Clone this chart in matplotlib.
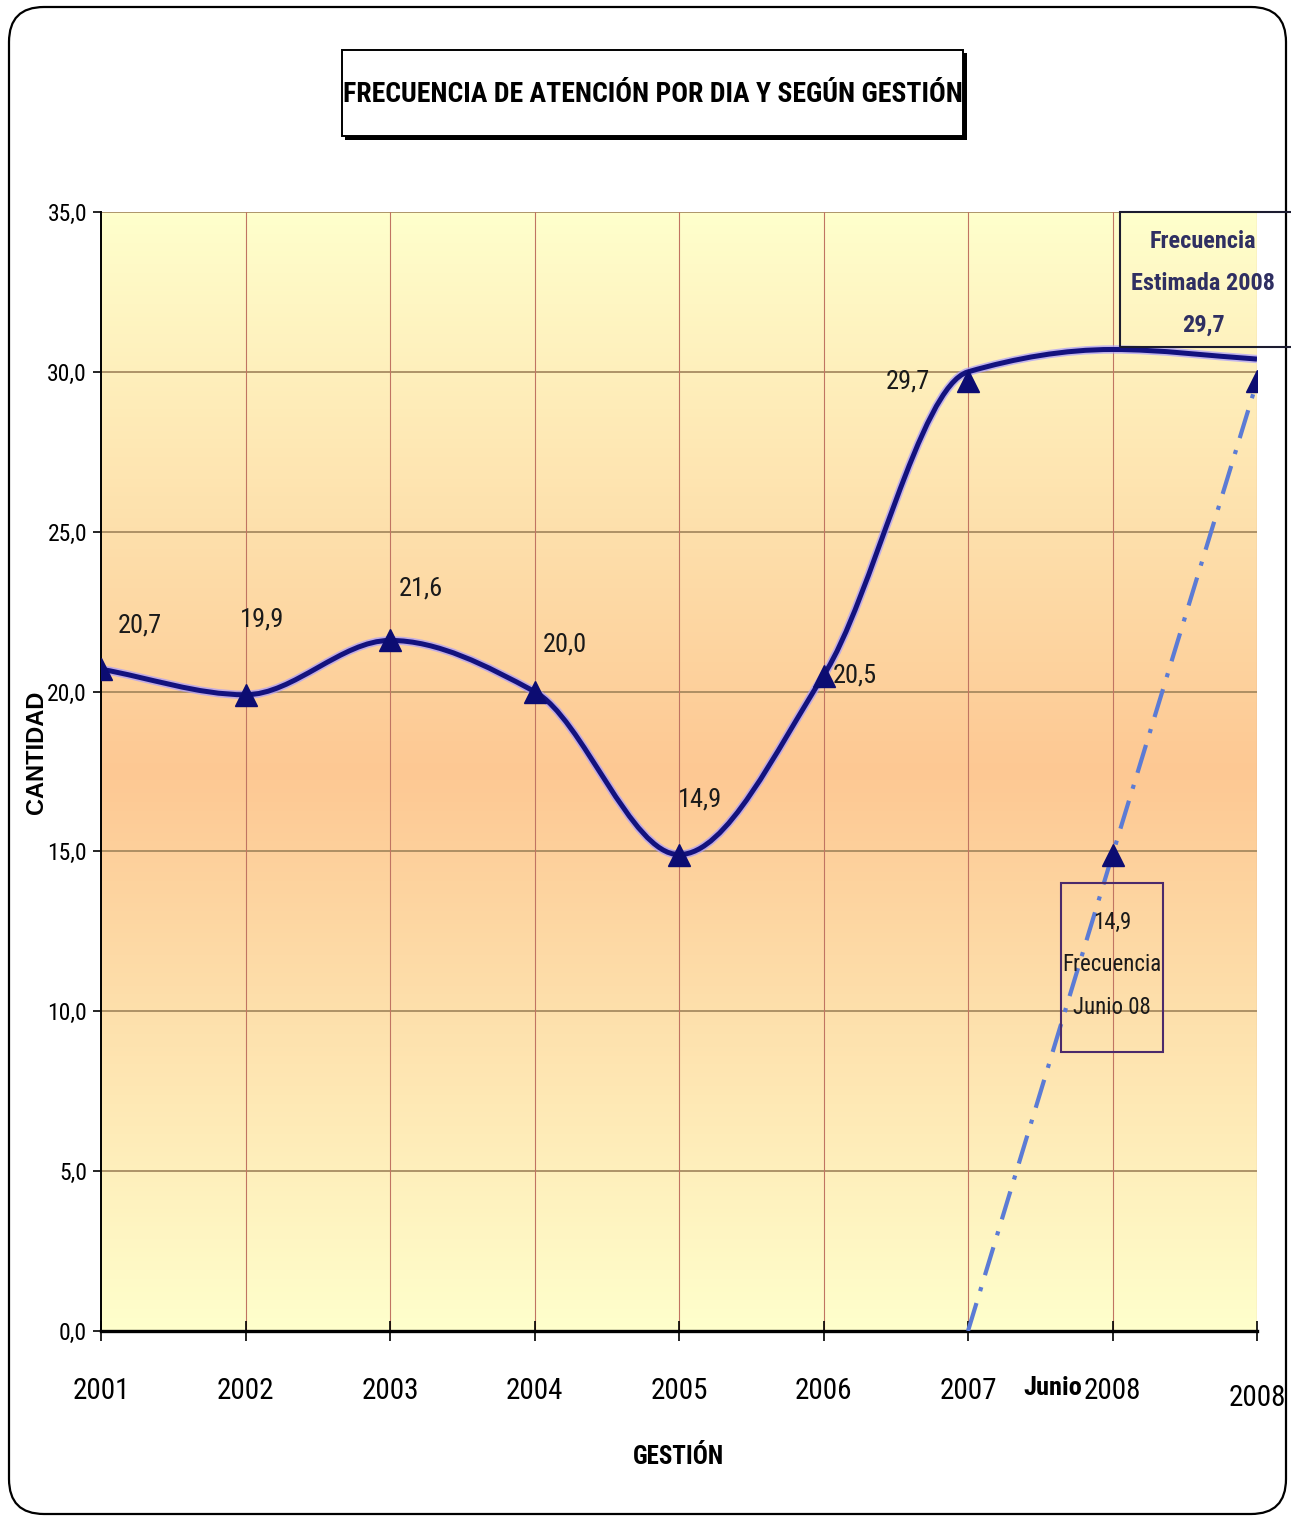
import matplotlib
matplotlib.use('Agg')
import matplotlib.pyplot as plt
import numpy as np
from matplotlib.path import Path
from matplotlib.patches import PathPatch, Rectangle, FancyBboxPatch
from matplotlib.colors import LinearSegmentedColormap

# datos
categorias = ['2001', '2002', '2003', '2004', '2005', '2006', '2007', 'Junio 2008', '2008']
frecuencia = [20.7, 19.9, 21.6, 20.0, 14.9, 20.5, 29.7]          # etiquetas 2001-2007
linea_frecuencia = [20.7, 19.9, 21.6, 20.0, 14.9, 20.5, 30.0, 30.7, 30.4]
estimada = [0.0, 14.9, 29.7]                                       # 2007, Junio 2008, 2008
estimada_idx = [6, 7, 8]

NARROW = ['Roboto Condensed', 'Liberation Sans', 'DejaVu Sans']
plt.rcParams['font.family'] = NARROW

W, H = 1291, 1518
fig = plt.figure(figsize=(W / 100, H / 100), dpi=100)
ax = fig.add_axes([101 / W, 1 - 1331 / H, 1156 / W, 1119 / H])

x = np.arange(len(categorias))
ax.set_xlim(0, len(categorias) - 1)
ax.set_ylim(0, 35)

# fondo degradado (amarillo - naranja - amarillo)
cmap = LinearSegmentedColormap.from_list('fondo', ['#ffffcc', '#fdc893', '#ffffcc'])
grad = np.linspace(0, 1, 256).reshape(-1, 1)
ax.imshow(grad, aspect='auto', cmap=cmap, extent=[0, len(categorias) - 1, 0, 35],
          origin='lower', zorder=0)

# rejilla
for yv in np.arange(5, 36, 5):
    ax.axhline(yv, color='#a0845a', lw=1.2, zorder=1)
for xv in x[1:]:
    ax.axvline(xv, color='#c07462', lw=0.8, zorder=1)

# linea suavizada: bezier con tangentes monotonas
pts = np.column_stack([x, linea_frecuencia]).astype(float)
d = np.diff(pts[:, 1])
m = np.zeros(len(pts))
m[0], m[-1] = d[0], d[-1]
for i in range(1, len(pts) - 1):
    if d[i - 1] * d[i] > 0:
        m[i] = 2 / (1 / d[i - 1] + 1 / d[i])
verts = [tuple(pts[0])]
codes = [Path.MOVETO]
for i in range(len(pts) - 1):
    p1, p2 = pts[i], pts[i + 1]
    verts += [(p1[0] + 1 / 3, p1[1] + m[i] / 3), (p2[0] - 1 / 3, p2[1] - m[i + 1] / 3), tuple(p2)]
    codes += [Path.CURVE4] * 3
curva = Path(verts, codes)
ax.add_patch(PathPatch(curva, fill=False, ec='#a99cff', lw=6.0, alpha=0.7, zorder=3))
ax.add_patch(PathPatch(curva, fill=False, ec='#13127e', lw=3.6, zorder=4))

# serie estimada (raya-punto)
ax.plot(estimada_idx, estimada, color='#5b7bd5', lw=3.0,
        linestyle=(0, (7, 3, 1, 3)), zorder=3)

# marcadores
ax.plot(x[:len(frecuencia)], frecuencia, linestyle='none', marker='^', ms=16,
        color='#0c0c72', zorder=5)
ax.plot(estimada_idx[1:], estimada[1:], linestyle='none', marker='^', ms=16,
        color='#0c0c72', zorder=5)

# etiquetas de datos
offsets = [(39, 44), (17, 75), (31, 52), (30, 47), (21, 55), (31, 0), (-60, 0)]
for xi, val, off in zip(x, frecuencia, offsets):
    ax.annotate(f'{val:.1f}'.replace('.', ','), (xi, val), xytext=off,
                textcoords='offset pixels', ha='center', va='center',
                fontsize=19, color='#1a1a1a', zorder=6)

# cuadro: frecuencia estimada 2008
fig.patches.append(Rectangle((1120 / W, 1 - 347 / H), 180 / W, 135 / H,
                             transform=fig.transFigure, fc='none', ec='#1c1c30', lw=1.5, zorder=5))
fig.text(1203 / W, 1 - 283 / H,
         'Frecuencia\nEstimada 2008\n' + f'{estimada[2]:.1f}'.replace('.', ','),
         ha='center', va='center', fontsize=17.5, fontweight='bold', color='#2f2f62',
         linespacing=2.05, zorder=6)

# cuadro: frecuencia junio 08
fig.patches.append(Rectangle((1061 / W, 1 - 1052 / H), 102 / W, 169 / H,
                             transform=fig.transFigure, fc='none', ec='#4b2a6b', lw=1.5, zorder=5))
fig.text(1112 / W, 1 - 965 / H,
         f'{estimada[1]:.1f}'.replace('.', ',') + '\nFrecuencia\nJunio 08',
         ha='center', va='center', fontsize=16.5, color='#1a1a1a',
         linespacing=2.1, zorder=6)

# ejes
for s in ['top', 'right']:
    ax.spines[s].set_visible(False)
ax.spines['left'].set_linewidth(1.4)
ax.spines['bottom'].set_linewidth(2.4)
ax.set_yticks(np.arange(0, 36, 5))
ax.set_yticklabels([f'{v:.1f}'.replace('.', ',') for v in np.arange(0, 36, 5)], fontsize=17)
ax.tick_params(axis='y', direction='out', length=6, width=1.2, pad=4)
ax.set_xticks(x)
ax.set_xticklabels([c.split()[-1] for c in categorias], fontsize=21)
ax.tick_params(axis='x', direction='inout', length=14, width=1.2, pad=26)
ax.get_xticklabels()[-1].set_y(-0.006)
for c, xi in zip(categorias, x):
    partes = c.split()
    if len(partes) > 1:
        ax.annotate(partes[0], (xi, 0), xytext=(-60, -57), textcoords='offset pixels',
                    ha='center', va='center', fontsize=19, fontweight='bold',
                    annotation_clip=False)

ax.set_xlabel('GESTIÓN', fontsize=18, fontweight='bold', va='center')
ax.xaxis.set_label_coords(0.5, -(1457 - 1331) / 1119)
ax.set_ylabel('CANTIDAD', fontsize=17, fontweight='bold', va='center',
              family=['Liberation Sans', 'DejaVu Sans'])
ax.yaxis.set_label_coords((37 - 101) / 1156, (1331 - 752) / 1119)

# titulo en cuadro con sombra
fig.patches.append(Rectangle((345 / W, 1 - 140 / H), 622 / W, 87 / H,
                             transform=fig.transFigure, fc='black', ec='none', zorder=1))
fig.patches.append(Rectangle((342 / W, 1 - 136 / H), 621 / W, 86 / H,
                             transform=fig.transFigure, fc='white', ec='black', lw=1.4, zorder=2))
fig.text(653 / W, 1 - 95 / H, 'FRECUENCIA DE ATENCIÓN POR DIA Y SEGÚN GESTIÓN',
         ha='center', va='center', fontsize=20, fontweight='bold', zorder=3)

# borde exterior redondeado
fig.patches.append(FancyBboxPatch((0.09, 0.04), 12.77, 15.07,
                                  boxstyle='round,pad=0,rounding_size=0.35',
                                  transform=fig.dpi_scale_trans, fc='none', ec='black', lw=1.6))

fig.savefig('out.png', dpi=100)
